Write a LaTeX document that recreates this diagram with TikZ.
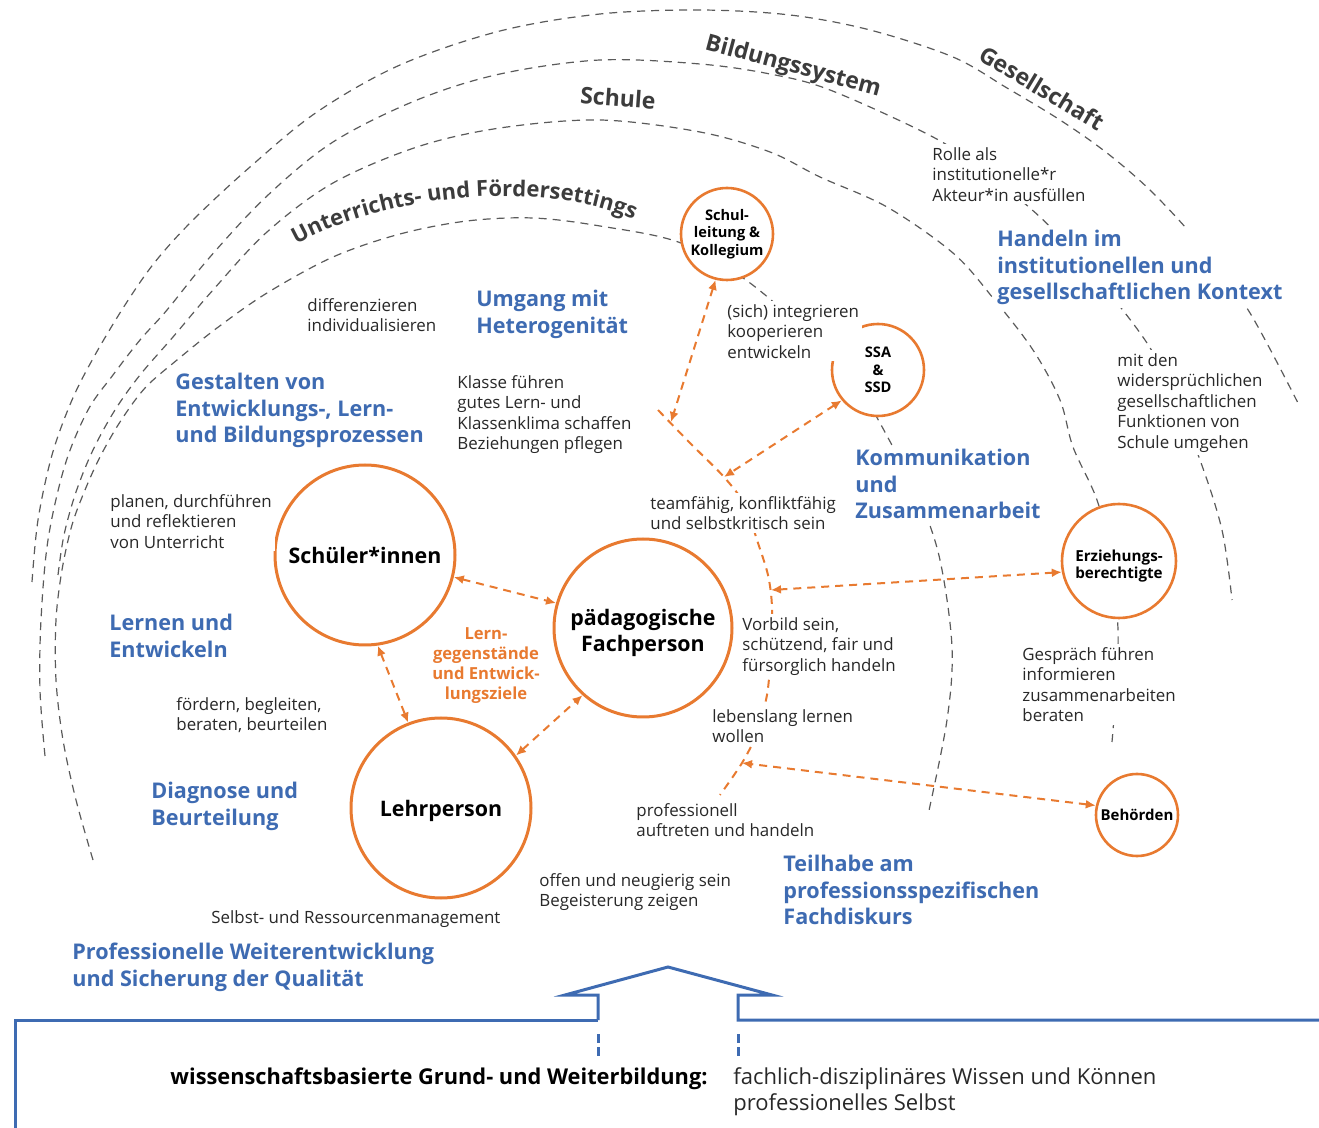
\documentclass[tikz,border=0pt]{standalone}
\usepackage{fontspec}
\setmainfont{Open Sans}
\usetikzlibrary{arrows.meta,backgrounds,decorations.text}
\definecolor{orangeC}{RGB}{232,122,48}
\definecolor{blueC}{RGB}{62,107,178}
\definecolor{grayL}{RGB}{90,90,90}
\definecolor{textC}{RGB}{40,40,40}
\definecolor{labelC}{RGB}{60,60,60}
\begin{document}
\begin{tikzpicture}[x=0.5pt,y=-0.5pt,
  arcline/.style={grayL, line width=0.6pt, dash pattern=on 4pt off 3pt},
  orangeline/.style={orangeC, line width=1pt, dash pattern=on 4pt off 3pt},
  link/.style={orangeline, {Latex[length=5pt,width=4.5pt]}-{Latex[length=5pt,width=4.5pt]}},
  txt/.style={anchor=north west, align=left, fill=white, inner sep=1.5pt, xshift=-1.5pt, yshift=1.5pt, text=textC, font=\fontsize{8.45}{10.25}\selectfont},
  head/.style={txt, text=blueC, font=\bfseries\fontsize{10.8}{13.25}\selectfont},
  bignode/.style={circle, draw=orangeC, line width=1.5pt, fill=white, minimum size=90pt, inner sep=0pt, align=center, font=\bfseries\fontsize{10.7}{13}\selectfont},
  biglabel/.style={inner sep=0pt, align=center, font=\bfseries\fontsize{10.7}{13}\selectfont},
  smallnode/.style={circle, draw=orangeC, line width=1.3pt, fill=white, inner sep=0pt, align=center, font=\bfseries\fontsize{7.3}{8.75}\selectfont},
  arclabel/.style={text=labelC, font=\bfseries\fontsize{11.5}{13}\selectfont, inner sep=0pt},
  boxline/.style={blueC, line width=1.5pt, line join=miter},
]
\useasboundingbox (0,0) rectangle (1319,1128);

% circle nodes
\node[bignode] (sch) at (365,555) {Schüler*innen};
\node[bignode, minimum size=89pt] (fach) at (643,628) {};
\node[biglabel] (fachlbl) at (643,633) {pädagogische\\Fachperson};
\node[bignode] (lehr) at (441,808) {};
\node[biglabel] (lehrlbl) at (441,811) {Lehrperson};
\node[smallnode, minimum size=46pt] (sl) at (727,234) {Schul-\\leitung \&\\Kollegium};
\node[smallnode, minimum size=46pt] (ssa) at (878,370) {SSA\\\&\\SSD};
\node[smallnode, minimum size=57pt] (erz) at (1119,561) {};
\node[inner sep=0pt, align=center, font=\bfseries\fontsize{7.6}{8.75}\selectfont] (erzlbl) at (1119,566) {Erziehungs-\\berechtigte};
\node[smallnode, minimum size=41pt, font=\bfseries\fontsize{7.5}{8.75}\selectfont] (beh) at (1137,815) {Behörden};

\coordinate (j1) at (671,422);
\coordinate (j2) at (724,477);
\coordinate (j3) at (771,590);
\coordinate (j4) at (742,763);

\begin{pgfonlayer}{background}
% gray context arcs
\draw[arcline] plot[smooth, tension=0.55] coordinates {(32,582) (38,520) (52,455) (72,400) (95,355) (125,305) (155,262) (193,220) (250,167) (317,112) (400,65) (500,31) (600,14) (700,10) (790,15) (870,30) (953,57) (1007,88) (1060,120) (1107,153) (1153,193) (1203,248) (1250,313) (1300,407)};
\draw[arcline] plot[smooth, tension=0.55] coordinates {(45,756) (40,690) (41,620) (48,540) (65,465) (88,410) (113,375) (140,340) (167,310) (210,257) (267,196) (333,142) (417,100) (500,74) (600,60) (700,64) (770,74) (830,90) (933,137) (985,172) (1040,217) (1090,270) (1147,343) (1175,400) (1200,460) (1222,530) (1232,600)};
\draw[arcline] plot[smooth, tension=0.55] coordinates {(58,575) (64,535) (76,492) (93,450) (115,410) (140,375) (173,337) (213,290) (267,232) (333,183) (417,147) (500,128) (600,120) (700,132) (770,152) (820,177) (887,207) (953,253) (993,298) (1033,350) (1060,400) (1073,447) (1097,500) (1112,560) (1118,630) (1116,690) (1112,742)};
\draw[arcline] plot[smooth, tension=0.55] coordinates {(93,860) (76,800) (63,740) (56,680) (56,620) (62,570) (72,525) (85,490) (100,457) (120,422) (145,388) (177,360) (217,328) (267,293) (333,257) (400,234) (467,221) (533,218) (600,226) (681,243) (750,283) (820,345) (860,390) (893,447) (920,500) (940,560) (952,647) (947,720) (928,815)};
% orange dashed curve around the Fachperson
\draw[orangeline] plot[smooth, tension=0.5] coordinates {(658,410) (690,443) (724,477) (745,505) (757,540) (768,575) (772,607) (771,650) (767,695) (756,735) (742,763) (720,795)};
\end{pgfonlayer}

% connectors
\draw[link] (sch.-14) -- (fach.164.5);
\draw[link] (sch.-82) -- (lehr.111);
\draw[link] (lehr.35.5) -- (fach.-132);
\draw[link] (sl.-104) -- (j1);
\draw[link] (ssa.-140) -- (j2);
\draw[link] (erz.-169) -- (j3);
\draw[link] (beh.167) -- (j4);

% arc labels
\path[decorate, decoration={text along path, text align=center, text={|\color{labelC}\bfseries\fontsize{11}{13}\selectfont|Unterrichts- und Fördersettings}}] (290,248) .. controls (390,190) and (550,180) .. (640,222);
\node[arclabel, rotate=-4] (lschule) at (618,98) {Schule};
\node[arclabel, rotate=-15] (lbild) at (793,67) {Bildungssystem};
\node[arclabel, rotate=-31] (lges) at (1042,88) {Gesellschaft};

% headings
\node[head] (h1) at (476,290) {Umgang mit\\Heterogenität};
\node[head] (h2) at (175,373) {Gestalten von\\Entwicklungs-, Lern-\\und Bildungsprozessen};
\node[head] (h3) at (997,230) {Handeln im\\institutionellen und\\gesellschaftlichen Kontext};
\node[head] (h4) at (855,449) {Kommunikation\\und\\Zusammenarbeit};
\node[head] (h5) at (109,614) {Lernen und\\Entwickeln};
\node[head] (h6) at (151,782) {Diagnose und\\Beurteilung};
\node[head] (h7) at (783,855) {Teilhabe am\\professionsspezifischen\\Fachdiskurs};
\node[head] (h8) at (72,943) {Professionelle Weiterentwicklung\\und Sicherung der Qualität};

% body texts
\node[txt] (t1) at (932,147) {Rolle als\\institutionelle*r\\Akteur*in ausfüllen};
\node[txt] (t2) at (307,298) {differenzieren\\individualisieren};
\node[txt] (t3) at (727,304) {(sich) integrieren\\kooperieren\\entwickeln};
\node[txt] (t4) at (457,375) {Klasse führen\\gutes Lern- und\\Klassenklima schaffen\\Beziehungen pflegen};
\node[txt] (t5) at (1117,353) {mit den\\widersprüchlichen\\gesellschaftlichen\\Funktionen von\\Schule umgehen};
\node[txt] (t6) at (110,494) {planen, durchführen\\und reflektieren\\von Unterricht};
\node[txt] (t7) at (650,496) {teamfähig, konfliktfähig\\und selbstkritisch sein};
\node[txt] (t8) at (742,617) {Vorbild sein,\\schützend, fair und\\fürsorglich handeln};
\node[txt] (t9) at (1022,647) {Gespräch führen\\informieren\\zusammenarbeiten\\beraten};
\node[txt] (t10) at (176,697) {fördern, begleiten,\\beraten, beurteilen};
\node[txt] (t11) at (712,709) {lebenslang lernen\\wollen};
\node[txt] (t12) at (636,803) {professionell\\auftreten und handeln};
\node[txt] (t13) at (539,873) {offen und neugierig sein\\Begeisterung zeigen};
\node[txt] (t14) at (211,910) {Selbst- und Ressourcenmanagement};

% orange label
\node[text=orangeC, font=\bfseries\fontsize{8.3}{10}\selectfont, align=center] (lern) at (486,666) {Lern-\\gegenstände\\und Entwick-\\lungsziele};

% bottom box with arrow
\draw[boxline] (598,1020) -- (598,995) -- (565,995) -- (668,967) -- (772,995) -- (738,995) -- (738,1020) -- (1330,1020);
\draw[boxline] (598,1020) -- (15,1020) -- (15,1140);
\draw[blueC, line width=1.5pt, dash pattern=on 4.5pt off 2pt] (598,1034) -- (598,1056);
\draw[blueC, line width=1.5pt, dash pattern=on 4.5pt off 2pt] (738,1034) -- (738,1056);
\node[anchor=north east, inner sep=0pt, font=\bfseries\fontsize{10.9}{13}\selectfont] (wb) at (708,1067) {wissenschaftsbasierte Grund- und Weiterbildung:};
\node[anchor=north west, align=left, inner sep=0pt, text=textC, font=\fontsize{11}{13}\selectfont] (fw) at (733,1067) {fachlich-disziplinäres Wissen und Können\\professionelles Selbst};
\end{tikzpicture}
\end{document}
